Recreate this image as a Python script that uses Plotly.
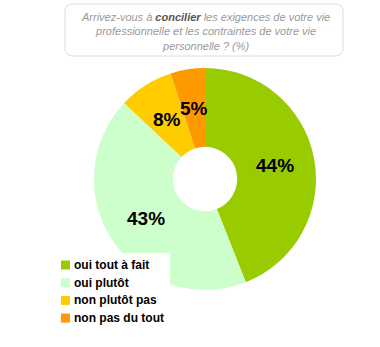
import math
import plotly.graph_objects as go

# Survey answers and their shares (%)
labels = ["oui tout à fait", "oui plutôt", "non plutôt pas", "non pas du tout"]
values = [44, 43, 8, 5]
colors = ["#99CC00", "#CCFFCC", "#FFCC00", "#FF9900"]

question = ("Arrivez-vous à <b style='color:#555'>concilier</b> les exigences de votre vie<br>"
            "professionnelle et les contraintes de votre vie<br>"
            "personnelle ? (%)")

W, H = 380, 347
FONT = "Arial, Liberation Sans"


def px_x(v):
    return v / W


def px_y(v):
    return 1 - v / H


# pie placement (pixels)
cx, cy, R = 205, 179, 111
dom_x = [px_x(cx - R), px_x(cx + R)]
dom_y = [px_y(cy + R), px_y(cy - R)]
label_r = 71

fig = go.Figure(go.Pie(
    labels=labels,
    values=values,
    marker=dict(colors=colors, line=dict(width=0)),
    hole=0.29,
    sort=False,
    direction="clockwise",
    rotation=0,
    textinfo="none",
    showlegend=False,
    domain=dict(x=dom_x, y=dom_y),
))

annotations = []
shapes = []

# value labels at the middle of each slice
total = sum(values)
acc = 0
for v in values:
    mid = (acc + v / 2) / total * 2 * math.pi
    acc += v
    lx = cx + label_r * math.sin(mid)
    ly = cy - label_r * math.cos(mid)
    annotations.append(dict(
        text=f"<b>{v}%</b>", x=px_x(lx), y=px_y(ly), xref="paper", yref="paper",
        xanchor="center", yanchor="middle", showarrow=False,
        font=dict(family=FONT, size=19, color="#000000"),
    ))

# rounded frame around the question
x0, x1, y0, y1, r = px_x(65), px_x(343), px_y(4), px_y(56), 8
rx, ry = r / W, r / H
path = (f"M{x0+rx},{y0} L{x1-rx},{y0} Q{x1},{y0} {x1},{y0-ry} "
        f"L{x1},{y1+ry} Q{x1},{y1} {x1-rx},{y1} "
        f"L{x0+rx},{y1} Q{x0},{y1} {x0},{y1+ry} "
        f"L{x0},{y0-ry} Q{x0},{y0} {x0+rx},{y0} Z")
shapes.append(dict(type="path", path=path, xref="paper", yref="paper",
                   line=dict(color="#DDDDDD", width=1), fillcolor="rgba(0,0,0,0)"))

annotations.append(dict(
    text=question, x=px_x(205), y=px_y(31), xref="paper", yref="paper",
    xanchor="center", yanchor="middle", showarrow=False, align="center",
    font=dict(family=FONT, size=11, color="#999999", style="italic"),
))

# legend panel drawn over the pie
shapes.append(dict(type="rect", xref="paper", yref="paper", layer="above",
                   x0=px_x(40), x1=px_x(170), y0=px_y(340), y1=px_y(253),
                   line=dict(width=0), fillcolor="white"))
row0, step, sq = 265, 17.7, 9
for i, (lab, col) in enumerate(zip(labels, colors)):
    yc = row0 + i * step
    shapes.append(dict(type="rect", xref="paper", yref="paper", layer="above",
                       x0=px_x(61), x1=px_x(61 + sq),
                       y0=px_y(yc + sq / 2), y1=px_y(yc - sq / 2),
                       line=dict(width=0), fillcolor=col))
    annotations.append(dict(
        text=f"<b>{lab}</b>", x=px_x(72), y=px_y(yc), xref="paper", yref="paper",
        xanchor="left", yanchor="middle", showarrow=False,
        font=dict(family=FONT, size=12, color="#000000"),
    ))

fig.update_layout(
    width=W, height=H,
    margin=dict(l=0, r=0, t=0, b=0),
    paper_bgcolor="white",
    plot_bgcolor="white",
    shapes=shapes,
    annotations=annotations,
)

fig.write_html("out.html")
